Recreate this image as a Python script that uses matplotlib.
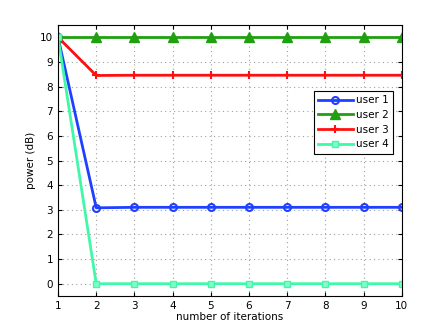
import matplotlib
matplotlib.use("Agg")
import matplotlib.pyplot as plt

iterations = [1, 2, 3, 4, 5, 6, 7, 8, 9, 10]
user1 = [10, 3.08, 3.1, 3.1, 3.1, 3.1, 3.1, 3.1, 3.1, 3.1]
user2 = [10, 10, 10, 10, 10, 10, 10, 10, 10, 10]
user3 = [10, 8.45, 8.46, 8.46, 8.46, 8.46, 8.46, 8.46, 8.46, 8.46]
user4 = [10, 0, 0, 0, 0, 0, 0, 0, 0, 0]
labels = ["user 1", "user 2", "user 3", "user 4"]

plt.rcParams['font.family'] = ['DejaVu Sans']
fig = plt.figure(figsize=(4.43, 3.33), dpi=100)
ax = fig.add_axes([0.131, 0.111, 0.776, 0.814])

ax.plot(iterations, user1, color='#2040ff', lw=2, marker='o', ms=5, mfc='none', mew=1.5, label=labels[0])
ax.plot(iterations, user2, color='#20a010', lw=2, marker='^', ms=6.5, mfc='#20a010', label=labels[1])
ax.plot(iterations, user3, color='#ff1010', lw=2, marker='+', ms=6, mew=1.5, label=labels[2])
ax.plot(iterations, user4, color='#40f8a8', lw=2, marker='s', ms=5, mfc='#80ffc8', mec='#40f8a8', label=labels[3])

ax.set_xlim(1, 10)
ax.set_ylim(-0.5, 10.5)
ax.set_xticks(range(1, 11))
ax.set_yticks(range(0, 11))
ax.tick_params(direction='in', labelsize=7.5, length=3, top=True, right=True)
ax.grid(True, linestyle=(0, (1, 3)), color='#a0a0a0', lw=0.8)
for s in ax.spines.values():
    s.set_linewidth(0.8)
ax.set_xlabel('number of iterations', fontsize=7.5, labelpad=1)
ax.set_ylabel('power (dB)', fontsize=7.5, labelpad=3)

leg = ax.legend(loc='upper right', bbox_to_anchor=(0.99, 0.775), fontsize=7.5, fancybox=False,
                edgecolor='black', framealpha=1, handlelength=3.4, borderpad=0.4,
                labelspacing=0.45, handletextpad=0.3)
leg.get_frame().set_linewidth(0.8)

fig.savefig('out.png', dpi=100)
